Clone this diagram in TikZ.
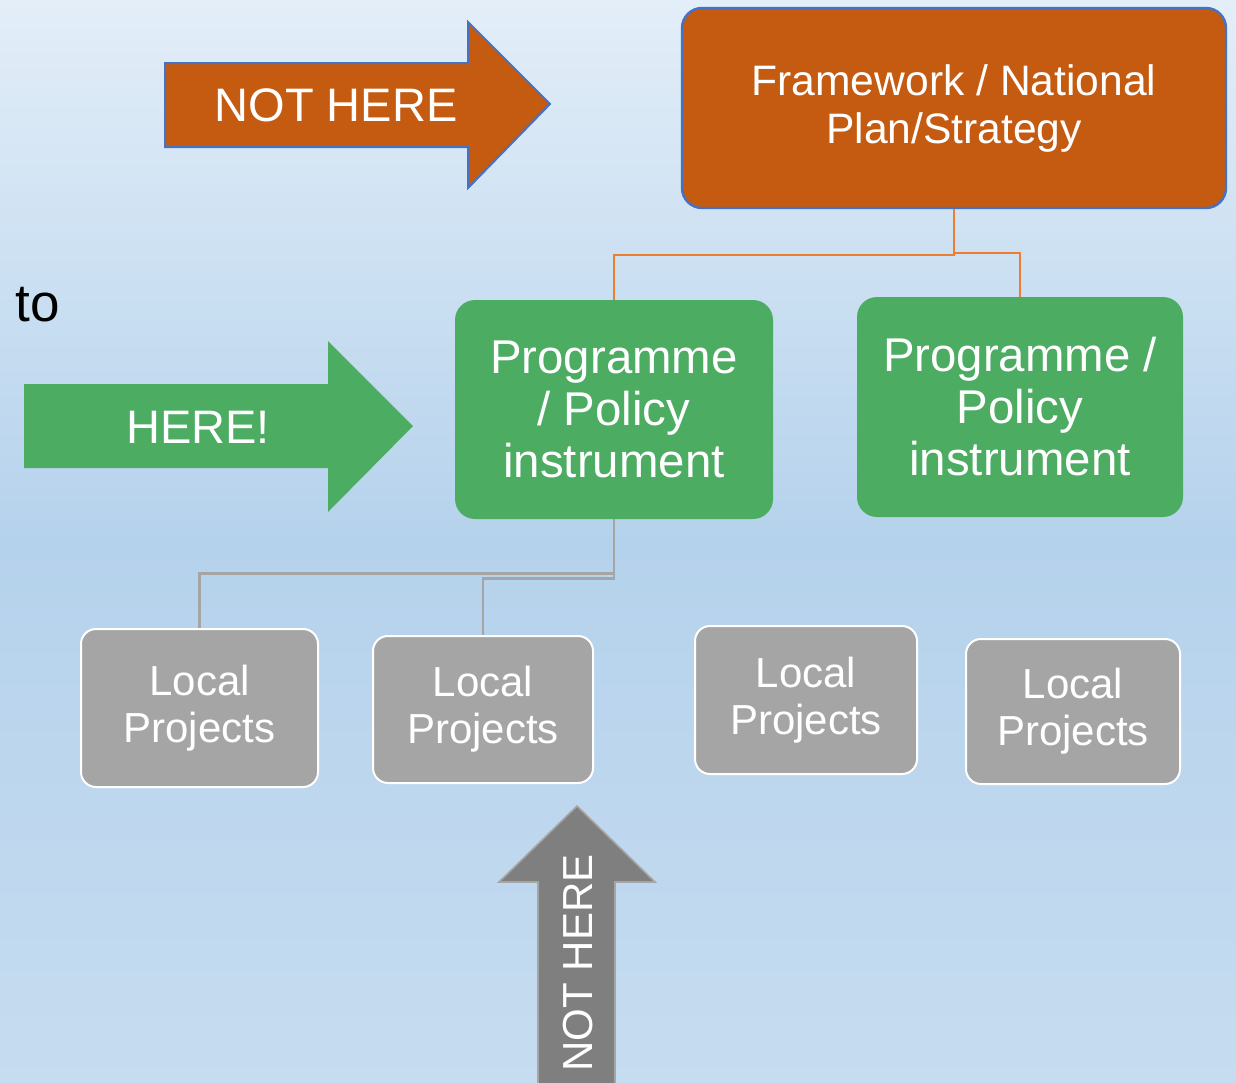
\documentclass[tikz,border=0pt]{standalone}
\usepackage{fontspec}
\setmainfont{Liberation Sans}
\usepackage{tikz}
\usetikzlibrary{positioning}
\definecolor{rust}{HTML}{C55A11}
\definecolor{edgeblue}{HTML}{4472C4}
\definecolor{leaf}{HTML}{4CAC62}
\definecolor{wire}{HTML}{ED7D31}
\definecolor{stone}{HTML}{A5A5A5}
\definecolor{slate}{HTML}{7F7F7F}
\definecolor{skytop}{HTML}{E3EEF8}
\definecolor{skymid}{HTML}{B5D2EC}
\definecolor{skybot}{HTML}{C6DCF0}
\tikzstyle{planbox} = [draw=edgeblue, line width=1.2pt, fill=rust, rectangle,
    rounded corners=10pt, text=white, align=center, inner sep=0pt,
    font=\fontsize{21.3}{24}\selectfont]
\tikzstyle{progbox} = [fill=leaf, rectangle, rounded corners=10pt,
    text=white, align=center, inner sep=0pt,
    font=\fontsize{23.7}{26}\selectfont]
\tikzstyle{projbox} = [draw=white, line width=1pt, fill=stone, rectangle,
    rounded corners=7.5pt, text=white, align=center, inner sep=0pt,
    font=\fontsize{21}{23.5}\selectfont]
\tikzstyle{arrtxt} = [text=white, inner sep=0pt, font=\fontsize{23.5}{26}\selectfont]
\tikzstyle{orgline} = [draw=wire, line width=1pt]
\tikzstyle{greyline} = [draw=stone, line width=1.1pt]

\begin{document}
\begin{tikzpicture}[x=0.5pt, y=-0.5pt]
        \useasboundingbox (0,0) rectangle (1236,1082);
        \clip (0,0) rectangle (1236,1082);
        \shade [top color=skytop, bottom color=skybot, middle color=skymid] (0,0) rectangle (1236,1082);

        % block arrows
        \filldraw [fill=rust, draw=edgeblue, line width=1pt] (165,63) -- (468,63) -- (468,22) -- (550,104) -- (468,188) -- (468,147) -- (165,147) -- cycle;
        \fill [leaf] (24,384) -- (328,384) -- (328,341) -- (413,426) -- (328,512) -- (328,468) -- (24,468) -- cycle;
        \filldraw [fill=slate, draw=stone, line width=0.8pt] (538,1090) -- (538,882) -- (499,882) -- (577,806) -- (655,882) -- (615,882) -- (615,1090) -- cycle;

        \node [arrtxt] (nothere) at (336,105) {NOT HERE};
        \node [arrtxt] (here) at (198,427) {HERE!};
        \node [arrtxt, rotate=90, font=\fontsize{21}{24}\selectfont] (nothereup) at (578,963) {NOT HERE};
        \node [inner sep=0pt, font=\fontsize{26.5}{30}\selectfont] (to) at (38,305) {to};

        \node [planbox, minimum width=272pt, minimum height=100pt] (fw) at (954,108) {Framework / National\\Plan/Strategy};

        \node [progbox, minimum width=159pt, minimum height=109.5pt] (pp1) at (614,409.5) {Programme\\/ Policy\\instrument};
        \node [progbox, minimum width=163pt, minimum height=110pt] (pp2) at (1020,407) {Programme /\\Policy\\instrument};

        \node [projbox, minimum width=118.5pt, minimum height=79pt] (lp1) at (199.5,708) {Local\\Projects};
        \node [projbox, minimum width=110pt, minimum height=73.5pt] (lp2) at (483,709.5) {Local\\Projects};
        \node [projbox, minimum width=111pt, minimum height=74pt] (lp3) at (806,700) {Local\\Projects};
        \node [projbox, minimum width=107pt, minimum height=72.5pt] (lp4) at (1073,711.5) {Local\\Projects};

        \draw [orgline] (fw.south) -- ++(0,46) -| (pp1.north);
        \draw [orgline] (fw.south) -- ++(0,44) -| (pp2.north);
        \draw [greyline] (pp1.south) -- ++(0,54) -| (lp1.north);
        \draw [greyline] (pp1.south) -- ++(0,59) -| (lp2.north);
    \end{tikzpicture}
\end{document}
